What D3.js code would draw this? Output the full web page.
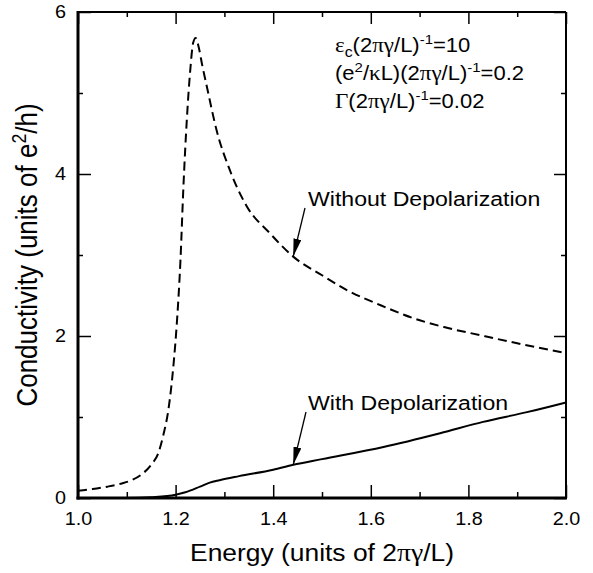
<!DOCTYPE html>
<html>
<head>
<meta charset="utf-8">
<script src="https://cdn.jsdelivr.net/npm/d3@7/dist/d3.min.js"></script>
<style>
  html, body { margin: 0; padding: 0; background: #fff; }
  text { font-family: "Liberation Sans", Arial, sans-serif; fill: #000; }
  .greek { font-family: "Liberation Serif", "Times New Roman", serif; }
</style>
</head>
<body>
<svg id="chart" width="593" height="573"></svg>
<script>
// Energy (units of 2πγ/L) vs conductivity (units of e²/h)
const withoutEnergy = [1.0, 1.03, 1.06, 1.09, 1.11, 1.13, 1.15, 1.165, 1.175, 1.185, 1.195, 1.203,
  1.21, 1.216, 1.223, 1.23, 1.236, 1.241, 1.246, 1.255, 1.264, 1.284, 1.311, 1.346, 1.393,
  1.441, 1.5, 1.55, 1.62, 1.687, 1.75, 1.824, 1.9, 2.0];
const withoutCond = [0.09, 0.11, 0.14, 0.18, 0.22, 0.29, 0.41, 0.56, 0.78, 1.08, 1.6, 2.2,
  2.94, 3.84, 4.67, 5.28, 5.62, 5.68, 5.6, 5.33, 5.08, 4.54, 4.05, 3.6, 3.27,
  2.98, 2.75, 2.57, 2.38, 2.22, 2.11, 2.01, 1.91, 1.79];

const withEnergy = [1.0, 1.1, 1.15, 1.2, 1.22, 1.25, 1.27, 1.29, 1.33, 1.4, 1.441, 1.5, 1.626, 1.742, 1.83, 1.92, 2.0];
const withCond = [0.0, 0.0, 0.01, 0.04, 0.07, 0.14, 0.19, 0.22, 0.27, 0.35, 0.41, 0.48, 0.63, 0.8, 0.94, 1.06, 1.18];

const xMajor = [1.0, 1.2, 1.4, 1.6, 1.8, 2.0];
const xMinor = [1.1, 1.3, 1.5, 1.7, 1.9];
const yMajor = [0, 2, 4, 6];
const yMinor = [1, 3, 5];

const L = 78, R = 566, T = 12, B = 498;
const svg = d3.select('#chart');

const x = d3.scaleLinear().domain([1, 2]).range([L, R]);
const y = d3.scaleLinear().domain([0, 6]).range([B, T]);

// scanned figure is a bit wider than tall, so text gets a small horizontal stretch
const SX = 1.1;

function tickAxis(axis, tr) {
    const g = svg.append('g').attr('transform', tr).call(axis);
    g.select('.domain').remove();
    g.selectAll('line').attr('stroke', '#000').attr('stroke-width', 1.5);
    return g;
}

// bottom
const bx = tickAxis(d3.axisBottom(x).tickValues(xMajor).tickSize(-13).tickPadding(14)
    .tickFormat(d3.format('.1f')), `translate(0,${B})`);
bx.selectAll('text').attr('font-size', 18).attr('font-family', 'Liberation Sans')
    .attr('transform', `scale(${SX},1)`);
tickAxis(d3.axisBottom(x).tickValues(xMinor).tickSize(-6).tickFormat(''), `translate(0,${B})`);
// top
tickAxis(d3.axisTop(x).tickValues(xMajor).tickSize(-12).tickFormat(''), `translate(0,${T})`);
tickAxis(d3.axisTop(x).tickValues(xMinor).tickSize(-5).tickFormat(''), `translate(0,${T})`);
// left
const ly = tickAxis(d3.axisLeft(y).tickValues(yMajor).tickSize(-13).tickPadding(11)
    .tickFormat(d3.format('d')), `translate(${L},0)`);
ly.selectAll('text').attr('font-size', 18).attr('font-family', 'Liberation Sans')
    .attr('transform', `scale(${SX},1)`);
tickAxis(d3.axisLeft(y).tickValues(yMinor).tickSize(-5).tickFormat(''), `translate(${L},0)`);
// right
tickAxis(d3.axisRight(y).tickValues(yMajor).tickSize(-12).tickFormat(''), `translate(${R},0)`);
tickAxis(d3.axisRight(y).tickValues(yMinor).tickSize(-5).tickFormat(''), `translate(${R},0)`);

// frame: left and bottom heavier
svg.append('line').attr('x1', L).attr('x2', R).attr('y1', T).attr('y2', T)
    .attr('stroke', '#000').attr('stroke-width', 2);
svg.append('line').attr('x1', R).attr('x2', R).attr('y1', T).attr('y2', B)
    .attr('stroke', '#000').attr('stroke-width', 2);
svg.append('line').attr('x1', L).attr('x2', L).attr('y1', T - 1).attr('y2', B + 1.5)
    .attr('stroke', '#000').attr('stroke-width', 3);
svg.append('line').attr('x1', L - 1.5).attr('x2', R + 1).attr('y1', B).attr('y2', B)
    .attr('stroke', '#000').attr('stroke-width', 3);

// curves
const line = d3.line().x(d => x(d[0])).y(d => y(d[1])).curve(d3.curveMonotoneX);
svg.append('path')
    .datum(d3.zip(withoutEnergy, withoutCond))
    .attr('d', line)
    .attr('fill', 'none').attr('stroke', '#000').attr('stroke-width', 2)
    .attr('stroke-dasharray', '9,5');
svg.append('path')
    .datum(d3.zip(withEnergy, withCond))
    .attr('d', line)
    .attr('fill', 'none').attr('stroke', '#000').attr('stroke-width', 2);

// arrows
svg.append('defs').append('marker')
    .attr('id', 'head').attr('viewBox', '0 0 18 8')
    .attr('refX', 18).attr('refY', 4)
    .attr('markerWidth', 18).attr('markerHeight', 8)
    .attr('markerUnits', 'userSpaceOnUse').attr('orient', 'auto')
    .append('path').attr('d', 'M0,0 L18,4 L0,8 Z').attr('fill', '#000');

function arrow(x0, y0, e, c) {
    svg.append('line').attr('x1', x0).attr('y1', y0)
        .attr('x2', x(e)).attr('y2', y(c))
        .attr('stroke', '#000').attr('stroke-width', 1.3)
        .attr('marker-end', 'url(#head)');
}
arrow(305, 208, 1.441, 2.98);
arrow(306, 412, 1.441, 0.41);

function label(tx, ty, str, size) {
    svg.append('text')
        .attr('transform', `translate(${tx},${ty}) scale(${SX},1)`)
        .attr('font-size', size)
        .text(str);
}
label(308, 206, 'Without Depolarization', 21);
label(308, 410, 'With Depolarization', 21);

// parameter block
const params = [
    [['ε', 'g'], ['c', 'sub'], ['(2', ''], ['πγ', 'g'], ['/L)', ''], ['-1', 'sup'], ['=10', '']],
    [['(e', ''], ['2', 'sup'], ['/', ''], ['κ', 'g'], ['L)(2', ''], ['πγ', 'g'], ['/L)', ''], ['-1', 'sup'], ['=0.2', '']],
    [['Γ', 'g'], ['(2', ''], ['πγ', 'g'], ['/L)', ''], ['-1', 'sup'], ['=0.02', '']]
];
const paramY = [52, 80, 108];

function rich(textSel, parts, size) {
    let shift = 0;
    parts.forEach(([s, kind]) => {
        const t = textSel.append('tspan').text(s);
        let target = 0;
        if (kind === 'sup') { target = -Math.round(size * 0.4); t.attr('font-size', size * 0.68); }
        if (kind === 'sub') { target = Math.round(size * 0.25); t.attr('font-size', size * 0.72); }
        if (kind === 'g') t.attr('class', 'greek').attr('font-size', size * 1.05);
        t.attr('dy', target - shift);
        shift = target;
    });
}

params.forEach((parts, i) => {
    const t = svg.append('text')
        .attr('transform', `translate(335,${paramY[i]}) scale(${SX},1)`)
        .attr('font-size', 20);
    rich(t, parts, 20);
});

// axis titles
const xt = svg.append('text')
    .attr('transform', `translate(${(L + R) / 2},561) scale(${SX},1)`)
    .attr('text-anchor', 'middle')
    .attr('font-size', 24);
rich(xt, [['Energy (units of 2', ''], ['πγ', 'g'], ['/L)', '']], 24);

const yt = svg.append('text')
    .attr('transform', `translate(37,${(T + B) / 2}) rotate(-90) scale(1,${SX})`)
    .attr('text-anchor', 'middle')
    .attr('font-size', 26);
rich(yt, [['Conductivity (units of e', ''], ['2', 'sup'], ['/h)', '']], 26);
</script>
</body>
</html>
